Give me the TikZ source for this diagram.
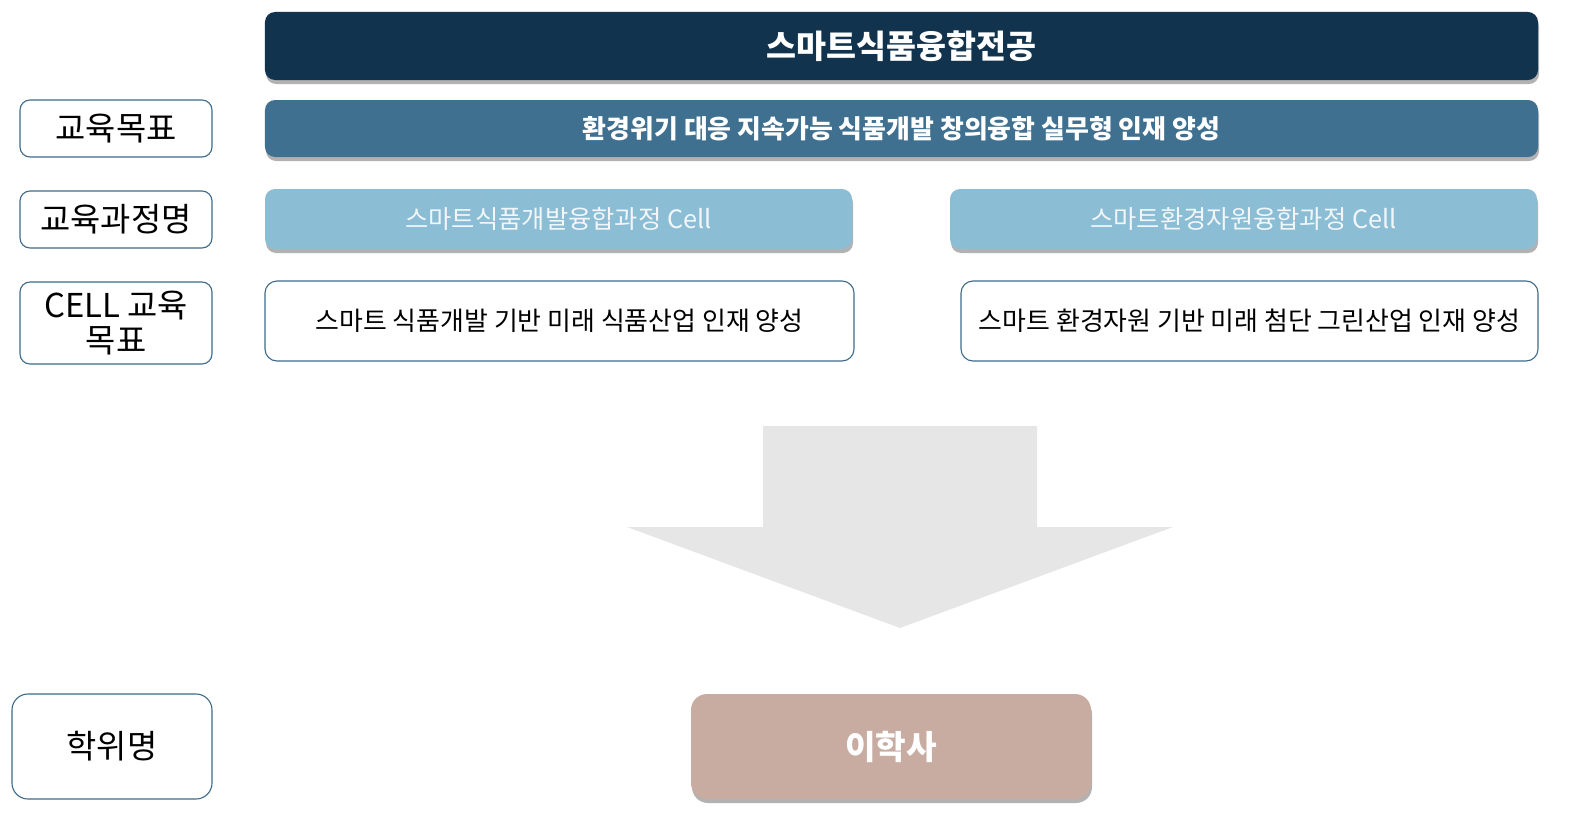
\documentclass[tikz,border=0pt]{standalone}
\usepackage{fontspec}
\setmainfont{Noto Sans CJK KR}
\usetikzlibrary{shadows}
\definecolor{navy}{HTML}{12334D}
\definecolor{steel}{HTML}{3F7090}
\definecolor{sky}{HTML}{8BBDD5}
\definecolor{bordc}{HTML}{3D6A8A}
\definecolor{arrowgray}{HTML}{E6E6E6}
\definecolor{rose}{HTML}{C8ACA1}
\definecolor{palewhite}{HTML}{F2F6F9}
\tikzset{
  lab/.style={draw=bordc, line width=1.1bp, rounded corners=10bp, fill=white,
    font=\fontsize{33}{36}\selectfont, align=center, inner sep=0pt, text=black},
  shad/.style={drop shadow={shadow xshift=1bp, shadow yshift=-4bp, opacity=0.3, fill=black}},
  bar/.style={shad, rounded corners=10bp, inner sep=0pt, text=white},
  goalbox/.style={draw=bordc, line width=1.1bp, rounded corners=12bp, fill=white,
    font=\fontsize{26}{30}\selectfont, inner sep=0pt, text=black},
}
\begin{document}
\begin{tikzpicture}[x=1bp,y=-1bp]
\useasboundingbox (0,0) rectangle (1583,834);
% title
\node[bar, fill=navy, minimum width=1273bp, minimum height=68bp,
  font=\fontsize{32.7}{36}\selectfont\bfseries] (title) at (901.5,46) {스마트식품융합전공};
% objective bar
\node[bar, fill=steel, minimum width=1273bp, minimum height=57bp,
  font=\fontsize{26}{30}\selectfont\bfseries] (goal) at (901.5,128.5) {환경위기 대응 지속가능 식품개발 창의융합 실무형 인재 양성};
% cell bars
\node[bar, fill=sky, text=palewhite, minimum width=587bp, minimum height=60bp,
  font=\fontsize{25.4}{30}\selectfont] (cellA) at (558.5,219) {스마트식품개발융합과정 Cell};
\node[bar, fill=sky, text=palewhite, minimum width=587bp, minimum height=60bp,
  font=\fontsize{25.4}{30}\selectfont] (cellB) at (1243.5,219) {스마트환경자원융합과정 Cell};
% cell goals
\node[goalbox, minimum width=589bp, minimum height=80bp] (goalA) at (559.5,321) {스마트 식품개발 기반 미래 식품산업 인재 양성};
\node[goalbox, minimum width=577bp, minimum height=80bp] (goalB) at (1249.5,321) {스마트 환경자원 기반 미래 첨단 그린산업 인재 양성};
% left labels
\node[lab, minimum width=192bp, minimum height=57bp] (l1) at (116,128.5) {교육목표};
\node[lab, minimum width=192bp, minimum height=57bp] (l2) at (116,219.5) {교육과정명};
\node[lab, minimum width=192bp, minimum height=82bp] (l3) at (116,323) {CELL 교육\\목표};
\node[lab, rounded corners=16bp, minimum width=200bp, minimum height=105bp] (l4) at (112,746.5) {학위명};
% big arrow
\fill[arrowgray] (763,426) -- (1037,426) -- (1037,527) -- (1173,527) -- (900,628) -- (627,527) -- (763,527) -- cycle;
% degree
\node[bar, fill=rose, rounded corners=16bp, minimum width=400bp, minimum height=105bp,
  font=\fontsize{33.4}{36}\selectfont\bfseries] (deg) at (891,746.5) {이학사};
\end{tikzpicture}
\end{document}
